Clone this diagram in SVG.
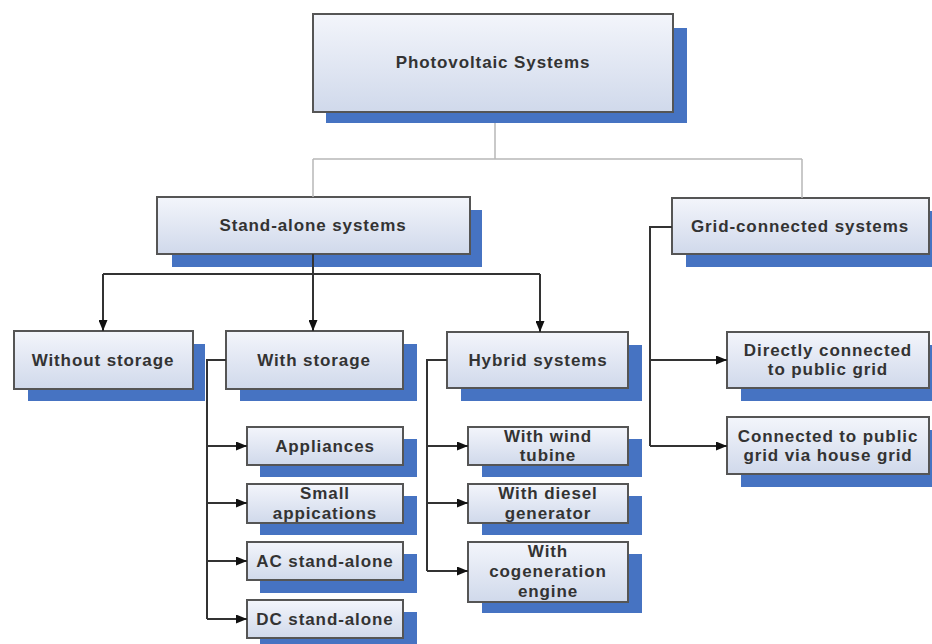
<svg xmlns="http://www.w3.org/2000/svg" width="932" height="644" viewBox="0 0 932 644">
<defs>
<linearGradient id="g" x1="0" y1="0" x2="0" y2="1">
<stop offset="0" stop-color="#f3f5fb"/>
<stop offset="1" stop-color="#d0d9eb"/>
</linearGradient>
<marker id="ar" markerUnits="userSpaceOnUse" markerWidth="11" markerHeight="9" refX="11" refY="4.5" orient="auto">
<path d="M0,0 L11,4.5 L0,9 z" fill="#111"/>
</marker>
</defs>
<style>
.sh{fill:#4673c2}
.bx{fill:url(#g);stroke:#555;stroke-width:2}
.t{font-family:"Liberation Sans",Arial,sans-serif;font-weight:bold;font-size:17px;letter-spacing:0.9px;fill:#333;text-anchor:middle;dominant-baseline:central}
.lc{fill:none;stroke:#b8b8b8;stroke-width:1.5}
.dc{fill:none;stroke:#333;stroke-width:2}
.ac{fill:none;stroke:#333;stroke-width:2;marker-end:url(#ar)}
</style>
<rect width="932" height="644" fill="#fff"/>

<g id="pv">
<rect class="sh" x="326" y="28" width="361" height="95"/>
<rect class="bx" x="313" y="14" width="360" height="98"/>
<text class="t" x="493" y="62">Photovoltaic Systems</text>
</g>
<g id="standalone">
<rect class="sh" x="172" y="210" width="310" height="57"/>
<rect class="bx" x="157" y="197" width="313" height="57"/>
<text class="t" x="313" y="225">Stand-alone systems</text>
</g>
<g id="grid">
<rect class="sh" x="686" y="211" width="250" height="56"/>
<rect class="bx" x="672" y="198" width="257" height="56"/>
<text class="t" x="800" y="226">Grid-connected systems</text>
</g>
<g id="without">
<rect class="sh" x="28" y="344" width="177" height="57"/>
<rect class="bx" x="14" y="331" width="179" height="58"/>
<text class="t" x="103" y="360">Without storage</text>
</g>
<g id="withstorage">
<rect class="sh" x="240" y="344" width="177" height="57"/>
<rect class="bx" x="226" y="331" width="177" height="58"/>
<text class="t" x="314" y="360">With storage</text>
</g>
<g id="hybrid">
<rect class="sh" x="461" y="345" width="181" height="56"/>
<rect class="bx" x="447" y="332" width="181" height="56"/>
<text class="t" x="538" y="360">Hybrid systems</text>
</g>
<g id="direct">
<rect class="sh" x="741" y="345" width="195" height="56"/>
<rect class="bx" x="727" y="332" width="202" height="56"/>
<text class="t" x="828" y="350">Directly connected</text>
<text class="t" x="828" y="369">to public grid</text>
</g>
<g id="house">
<rect class="sh" x="741" y="430" width="195" height="57"/>
<rect class="bx" x="727" y="417" width="202" height="57"/>
<text class="t" x="828" y="436">Connected to public</text>
<text class="t" x="828" y="455">grid via house grid</text>
</g>
<g id="appliances">
<rect class="sh" x="260" y="439" width="157" height="38"/>
<rect class="bx" x="247" y="427" width="156" height="38"/>
<text class="t" x="325" y="446">Appliances</text>
</g>
<g id="small">
<rect class="sh" x="260" y="496" width="157" height="39"/>
<rect class="bx" x="247" y="484" width="156" height="39"/>
<text class="t" x="325" y="493">Small</text>
<text class="t" x="325" y="513">appications</text>
</g>
<g id="ac">
<rect class="sh" x="260" y="554" width="157" height="39"/>
<rect class="bx" x="247" y="542" width="156" height="38"/>
<text class="t" x="325" y="561">AC stand-alone</text>
</g>
<g id="dc">
<rect class="sh" x="260" y="612" width="157" height="39"/>
<rect class="bx" x="247" y="600" width="156" height="38"/>
<text class="t" x="325" y="619">DC stand-alone</text>
</g>
<g id="wind">
<rect class="sh" x="482" y="439" width="160" height="38"/>
<rect class="bx" x="468" y="427" width="160" height="38"/>
<text class="t" x="548" y="436">With wind</text>
<text class="t" x="548" y="455">tubine</text>
</g>
<g id="diesel">
<rect class="sh" x="482" y="496" width="160" height="39"/>
<rect class="bx" x="468" y="484" width="160" height="39"/>
<text class="t" x="548" y="493">With diesel</text>
<text class="t" x="548" y="513">generator</text>
</g>
<g id="cogen">
<rect class="sh" x="482" y="554" width="160" height="59"/>
<rect class="bx" x="468" y="542" width="160" height="60"/>
<text class="t" x="548" y="551">With</text>
<text class="t" x="548" y="571">cogeneration</text>
<text class="t" x="548" y="591">engine</text>
</g>

<g id="connectors">
<path class="lc" d="M495,123 V159 M313,159 H802 M313,159 V197 M802,159 V198"/>
<path class="dc" d="M103,274 H540"/>
<path class="ac" d="M313,254 V331"/>
<path class="ac" d="M103,274 V331"/>
<path class="ac" d="M540,274 V332"/>
<path class="dc" d="M672,227 H650 V446"/>
<path class="ac" d="M650,360 H727"/>
<path class="ac" d="M650,446 H727"/>
<path class="dc" d="M226,360 H207 V619"/>
<path class="ac" d="M207,446 H247"/>
<path class="ac" d="M207,503 H247"/>
<path class="ac" d="M207,561 H247"/>
<path class="ac" d="M207,619 H247"/>
<path class="dc" d="M447,360 H427 V571"/>
<path class="ac" d="M427,446 H468"/>
<path class="ac" d="M427,503 H468"/>
<path class="ac" d="M427,571 H468"/>
</g>
</svg>
